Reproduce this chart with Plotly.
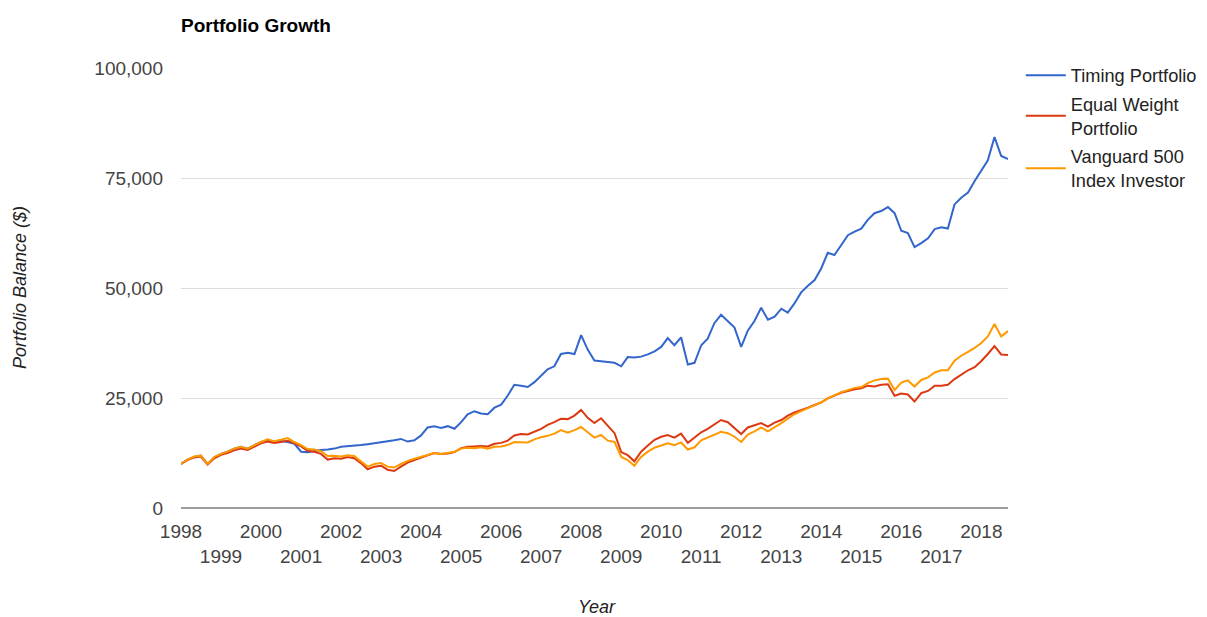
"""
Portfolio growth chart: timing portfolio vs equal weight vs Vanguard 500.
"""

import pandas as pd
import plotly.graph_objects as go


# bi-monthly observations, Jan 1998 .. Sep 2018
DATES = pd.date_range("1998-01-01", periods=125, freq="2MS")

TIMING_PORTFOLIO = [
    10000, 11000, 11600, 11900, 10000, 11500,  # 1998
    12300, 12800, 13500, 13900, 13500, 14300,  # 1999
    15000, 15300, 15000, 15200, 15000, 14600,  # 2000
    12800, 12700, 13000, 13200, 13300, 13500,  # 2001
    13900, 14000, 14100, 14300, 14500, 14700,  # 2002
    14900, 15200, 15400, 15700, 15100, 15400,  # 2003
    16500, 18300, 18600, 18200, 18600, 18000,  # 2004
    19500, 21300, 22000, 21500, 21300, 22800,  # 2005
    23500, 25500, 28000, 27800, 27500, 28600,  # 2006
    30000, 31500, 32200, 35000, 35300, 35000,  # 2007
    39300, 36000, 33500, 33400, 33200, 33000,  # 2008
    32200, 34300, 34200, 34400, 34900, 35600,  # 2009
    36600, 38600, 37000, 38800, 32600, 33000,  # 2010
    37000, 38500, 42000, 43900, 42500, 41000,  # 2011
    36600, 40300, 42500, 45500, 42800, 43500,  # 2012
    45300, 44400, 46500, 49000, 50500, 51800,  # 2013
    54500, 58000, 57500, 59800, 62000, 62800,  # 2014
    63500, 65500, 67000, 67500, 68400, 67000,  # 2015
    63000, 62500, 59300, 60200, 61300, 63400,  # 2016
    63800, 63500, 69000, 70500, 71700, 74300,  # 2017
    76800, 79000, 84300, 80000, 79300,         # 2018
]

EQUAL_WEIGHT = [
    10000, 10900, 11500, 11700, 9900, 11300,   # 1998
    12100, 12500, 13100, 13500, 13200, 13900,  # 1999
    14700, 15100, 14800, 15000, 15300, 14700,  # 2000
    14000, 13000, 12800, 12300, 11000, 11300,  # 2001
    11200, 11600, 11300, 10200, 8800, 9400,    # 2002
    9600, 8700, 8400, 9400, 10300, 10900,      # 2003
    11500, 12000, 12500, 12300, 12400, 12700,  # 2004
    13600, 13900, 14000, 14100, 14000, 14600,  # 2005
    14800, 15300, 16500, 16800, 16700, 17300,  # 2006
    18000, 18900, 19500, 20300, 20200, 21000,  # 2007
    22300, 20500, 19300, 20400, 18600, 17000,  # 2008
    12700, 12000, 10600, 12800, 14200, 15500,  # 2009
    16200, 16600, 16000, 16900, 14800, 16000,  # 2010
    17200, 18000, 19000, 20000, 19500, 18200,  # 2011
    16800, 18300, 18800, 19300, 18500, 19400,  # 2012
    20000, 21000, 21700, 22200, 22800, 23400,  # 2013
    24000, 24900, 25500, 26200, 26600, 27000,  # 2014
    27200, 27800, 27600, 28000, 28100, 25500,  # 2015
    26000, 25800, 24200, 26100, 26600, 27800,  # 2016
    27800, 28000, 29300, 30300, 31300, 32000,  # 2017
    33400, 35000, 36800, 34900, 34800,         # 2018
]

VANGUARD_500 = [
    10000, 11000, 11700, 11900, 10000, 11600,  # 1998
    12300, 12800, 13500, 13900, 13500, 14300,  # 1999
    15000, 15600, 15200, 15500, 15900, 15000,  # 2000
    14300, 13400, 13300, 12900, 11800, 11900,  # 2001
    11700, 12000, 11800, 10600, 9400, 10000,   # 2002
    10200, 9400, 9200, 10000, 10700, 11200,    # 2003
    11600, 12100, 12500, 12300, 12500, 12800,  # 2004
    13500, 13700, 13600, 13800, 13500, 13900,  # 2005
    14000, 14300, 15000, 14900, 14900, 15600,  # 2006
    16100, 16400, 16900, 17700, 17100, 17700,  # 2007
    18400, 17200, 16000, 16600, 15300, 15000,  # 2008
    11600, 10900, 9600, 11600, 12800, 13700,   # 2009
    14300, 14700, 14300, 14900, 13300, 13800,  # 2010
    15400, 16000, 16600, 17300, 17000, 16200,  # 2011
    15000, 16700, 17400, 18300, 17400, 18300,  # 2012
    19300, 20300, 21300, 22000, 22700, 23400,  # 2013
    24000, 24900, 25600, 26300, 26800, 27300,  # 2014
    27500, 28400, 29000, 29300, 29400, 26800,  # 2015
    28500, 29000, 27600, 29100, 29700, 30800,  # 2016
    31300, 31300, 33500, 34600, 35500, 36400,  # 2017
    37500, 39000, 41800, 39000, 40200,         # 2018
]

SERIES = [
    ("Timing Portfolio", TIMING_PORTFOLIO, "#3366CC"),
    ("Equal Weight<br>Portfolio", EQUAL_WEIGHT, "#DC3912"),
    ("Vanguard 500<br>Index Investor", VANGUARD_500, "#FF9900"),
]

YEARS = list(range(1998, 2019))
Y_TICKS = [0, 25000, 50000, 75000, 100000]

FONT = "Arial, Liberation Sans, sans-serif"

# the page body has an 8px margin, so the figure is 8px smaller each way
WIDTH, HEIGHT = 1199, 609
PLOT_W, PLOT_H = 827, 440


fig = go.Figure()

for name, values, color in SERIES:
    fig.add_trace(
        go.Scatter(
            x=DATES,
            y=values,
            mode="lines",
            name=name,
            legendgroup=name,
            line={"color": color, "width": 2},
        )
    )

# even years on the first row, odd years dropped to a second row
tick_vals = [pd.Timestamp(year=y, month=1, day=1) for y in YEARS]
tick_text = [str(y) if y % 2 == 0 else "<br>" + str(y) for y in YEARS]

fig.update_layout(
    width=WIDTH,
    height=HEIGHT,
    margin={
        "l": 173, "r": 199, "t": 60, "b": 109,
        "pad": 0, "autoexpand": False,
    },
    plot_bgcolor="white",
    paper_bgcolor="white",
    font={"family": FONT, "size": 19, "color": "#444444"},
    title={
        "text": "<b>Portfolio Growth</b>",
        "font": {"size": 19, "color": "#000000"},
        "x": 173 / WIDTH,
        "xanchor": "left",
        "y": 1 - 17 / HEIGHT,
        "yanchor": "middle",
    },
    showlegend=True,
    legend={
        "x": 1.0155,
        "xanchor": "left",
        "y": 1.025,
        "yanchor": "top",
        "font": {"size": 18.2, "color": "#222222"},
        "tracegroupgap": 2,
        "itemwidth": 40,
        "bgcolor": "rgba(0,0,0,0)",
    },
    annotations=[
        {
            "text": "<i>Portfolio Balance ($)</i>",
            "xref": "paper",
            "yref": "paper",
            "x": -161 / PLOT_W,
            "xanchor": "center",
            "y": 0.5,
            "yanchor": "middle",
            "textangle": -90,
            "showarrow": False,
            "font": {"size": 18, "color": "#222222"},
        },
        {
            "text": "<i>Year</i>",
            "xref": "paper",
            "yref": "paper",
            "x": 0.503,
            "xanchor": "center",
            "y": -99 / PLOT_H,
            "yanchor": "middle",
            "showarrow": False,
            "font": {"size": 18, "color": "#222222"},
        },
    ],
)

fig.update_xaxes(
    range=[DATES[0], DATES[-1]],
    tickvals=tick_vals,
    ticktext=tick_text,
    tickangle=0,
    showgrid=False,
    showline=False,
    zeroline=False,
    ticks="",
    ticklabelstandoff=10,
)

fig.update_yaxes(
    range=[0, 100000],
    tickvals=Y_TICKS,
    tickformat=",d",
    showgrid=True,
    gridcolor="#DDDDDD",
    gridwidth=1,
    zeroline=True,
    zerolinecolor="#9E9E9E",
    zerolinewidth=1.5,
    showline=False,
    ticks="",
    ticklabelstandoff=17,
)

fig.write_html("out.html")
